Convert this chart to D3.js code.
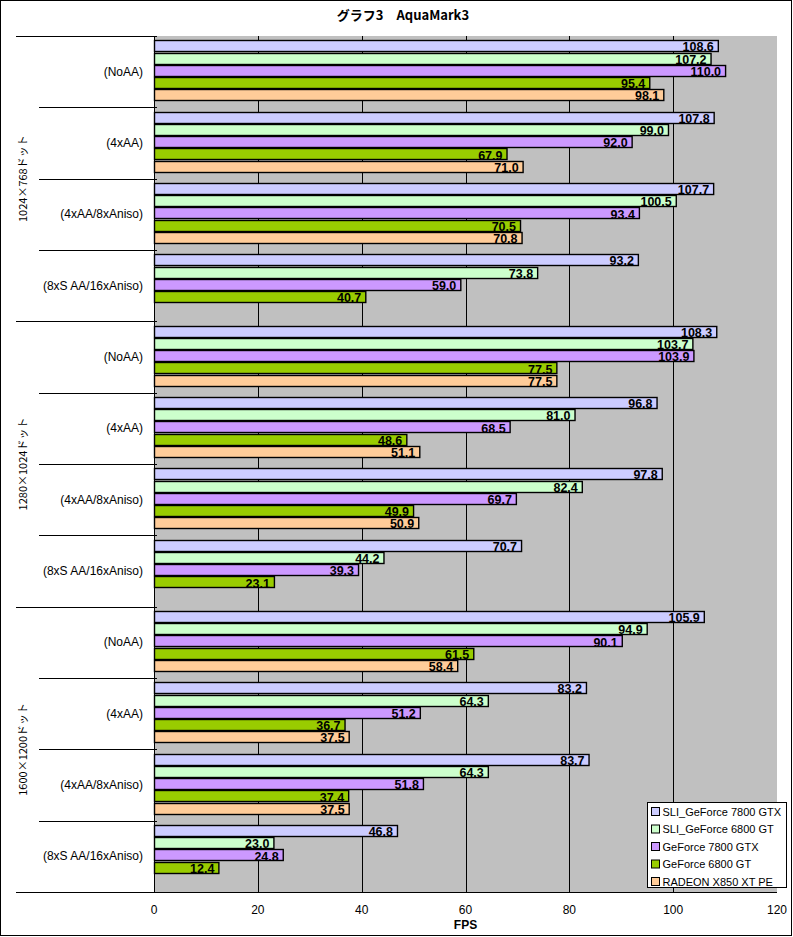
<!DOCTYPE html>
<html>
<head>
<meta charset="utf-8">
<script src="https://cdn.jsdelivr.net/npm/d3@7"></script>
<style>
  body { margin: 0; background: #fff; }
  svg text { font-family: "Liberation Sans", "Noto Sans CJK JP", sans-serif; }
</style>
</head>
<body>
<div id="chart"></div>
<script>
// Données
const resolutions = ['1024×768ドット', '1280×1024ドット', '1600×1200ドット'];
const modes = ['(NoAA)', '(4xAA)', '(4xAA/8xAniso)', '(8xS AA/16xAniso)'];
const series = ['SLI_GeForce 7800 GTX', 'SLI_GeForce 6800 GT', 'GeForce 7800 GTX', 'GeForce 6800 GT', 'RADEON X850 XT PE'];
const colors = ['#ccccff', '#ccffcc', '#cc99ff', '#99cc00', '#ffcc99'];
const xTicks = [0, 20, 40, 60, 80, 100, 120];

// une ligne par série, 12 valeurs (résolution x mode)
const sli7800gtx = [108.6, 107.8, 107.7, 93.2, 108.3, 96.8, 97.8, 70.7, 105.9, 83.2, 83.7, 46.8];
const sli6800gt = [107.2, 99.0, 100.5, 73.8, 103.7, 81.0, 82.4, 44.2, 94.9, 64.3, 64.3, 23.0];
const gf7800gtx = [110.0, 92.0, 93.4, 59.0, 103.9, 68.5, 69.7, 39.3, 90.1, 51.2, 51.8, 24.8];
const gf6800gt = [95.4, 67.9, 70.5, 40.7, 77.5, 48.6, 49.9, 23.1, 61.5, 36.7, 37.4, 12.4];
const x850xtpe = [98.1, 71.0, 70.8, null, 77.5, 51.1, 50.9, null, 58.4, 37.5, 37.5, null];
const values = [sli7800gtx, sli6800gt, gf7800gtx, gf6800gt, x850xtpe];

const W = 793, H = 937;
const margin = { top: 36, right: 777, bottom: 892, left: 154 };

const svg = d3.select('#chart').append('svg').attr('width', W).attr('height', H);

svg.append('rect')
  .attr('x', 0.5).attr('y', 0.5).attr('width', W - 2).attr('height', H - 2)
  .attr('fill', '#fff').attr('stroke', '#000');

// titre
svg.append('text')
  .attr('x', 403).attr('y', 20)
  .attr('text-anchor', 'middle')
  .attr('font-size', 13).attr('font-weight', 'bold')
  .style('font-family', '"Noto Sans CJK JP", sans-serif')
  .text('グラフ3　AquaMark3');

const cats = [];
resolutions.forEach((r, ri) => modes.forEach((m, mi) => cats.push({ r: ri, m: mi, key: ri + '-' + mi })));

const x = d3.scaleLinear().domain([0, 120]).range([margin.left, margin.right]);
const y = d3.scaleBand().domain(cats.map((d) => d.key)).range([margin.top, margin.bottom]);
const bw = y.bandwidth();
const yInner = d3.scaleBand().domain(series).range([bw * 0.06, bw * 0.92]);

// fond gris
svg.append('rect')
  .attr('x', margin.left).attr('y', margin.top)
  .attr('width', margin.right - margin.left).attr('height', margin.bottom - margin.top)
  .attr('fill', '#c0c0c0');

// grille verticale
svg.append('g')
  .selectAll('line')
  .data(xTicks.filter((t) => t > 0 && t < 120))
  .enter()
  .append('line')
  .attr('x1', (d) => Math.round(x(d)) + 0.5).attr('x2', (d) => Math.round(x(d)) + 0.5)
  .attr('y1', margin.top).attr('y2', margin.bottom)
  .attr('stroke', '#000');

// barres
const rows = [];
cats.forEach((c, ci) => {
  series.forEach((s, si) => {
    const v = values[si][ci];
    if (v != null) rows.push({ key: c.key, s, si, v });
  });
});

svg.append('g')
  .selectAll('.bar')
  .data(rows)
  .enter()
  .append('rect')
  .attr('class', 'bar')
  .attr('x', x(0) + 0.5)
  .attr('y', (d) => Math.round(y(d.key) + yInner(d.s)) + 0.5)
  .attr('width', (d) => x(d.v) - x(0))
  .attr('height', Math.round(yInner.bandwidth()) - 1)
  .attr('fill', (d) => colors[d.si])
  .attr('stroke', '#000')
  .attr('stroke-width', 1.4);

svg.append('g')
  .selectAll('.val')
  .data(rows)
  .enter()
  .append('text')
  .attr('class', 'val')
  .attr('x', (d) => x(d.v) - 4)
  .attr('y', (d) => y(d.key) + yInner(d.s) + yInner.bandwidth() / 2 + 5)
  .attr('text-anchor', 'end')
  .attr('font-size', 12.5)
  .attr('font-weight', 'bold')
  .text((d) => d.v.toFixed(1));

// axes
svg.append('line')
  .attr('x1', margin.left + 0.5).attr('x2', margin.left + 0.5)
  .attr('y1', margin.top).attr('y2', margin.bottom + 1)
  .attr('stroke', '#000');
svg.append('line')
  .attr('x1', 16).attr('x2', margin.right)
  .attr('y1', margin.bottom + 0.5).attr('y2', margin.bottom + 0.5)
  .attr('stroke', '#000');

// traits de catégorie
svg.append('g')
  .selectAll('line')
  .data(cats)
  .enter()
  .append('line')
  .attr('x1', (d) => (d.m === 0 ? 16 : 39))
  .attr('x2', margin.left + 3)
  .attr('y1', (d) => Math.round(y(d.key)) + 0.5)
  .attr('y2', (d) => Math.round(y(d.key)) + 0.5)
  .attr('stroke', '#000');

svg.append('g')
  .selectAll('text')
  .data(cats)
  .enter()
  .append('text')
  .attr('x', 143)
  .attr('y', (d) => y(d.key) + bw / 2 + 4)
  .attr('text-anchor', 'end')
  .attr('font-size', 12)
  .text((d) => modes[d.m]);

svg.append('g')
  .selectAll('text')
  .data(resolutions)
  .enter()
  .append('text')
  .attr('transform', (d, i) => `translate(27,${y(i + '-0') + bw * 2}) rotate(-90)`)
  .attr('text-anchor', 'middle')
  .attr('font-size', 11)
  .style('font-family', '"Noto Sans CJK JP", sans-serif')
  .text((d) => d);

// axe X
svg.append('g')
  .selectAll('text')
  .data(xTicks)
  .enter()
  .append('text')
  .attr('x', (d) => x(d))
  .attr('y', 914)
  .attr('text-anchor', 'middle')
  .attr('font-size', 12)
  .text((d) => d);

svg.append('text')
  .attr('x', x(60)).attr('y', 929)
  .attr('text-anchor', 'middle')
  .attr('font-size', 12).attr('font-weight', 'bold')
  .text('FPS');

// légende
const legend = svg.append('g').attr('transform', 'translate(647.5,802.5)');
legend.append('rect')
  .attr('width', 139).attr('height', 85)
  .attr('fill', '#fff').attr('stroke', '#000');
const items = legend.selectAll('.item')
  .data(series)
  .enter()
  .append('g')
  .attr('transform', (d, i) => `translate(4,${9 + i * 17.5})`);
items.append('rect')
  .attr('x', 0).attr('y', -4).attr('width', 8).attr('height', 8)
  .attr('fill', (d, i) => colors[i]).attr('stroke', '#000');
items.append('text')
  .attr('x', 11).attr('y', 4)
  .attr('font-size', 11)
  .text((d) => d);
</script>
</body>
</html>
